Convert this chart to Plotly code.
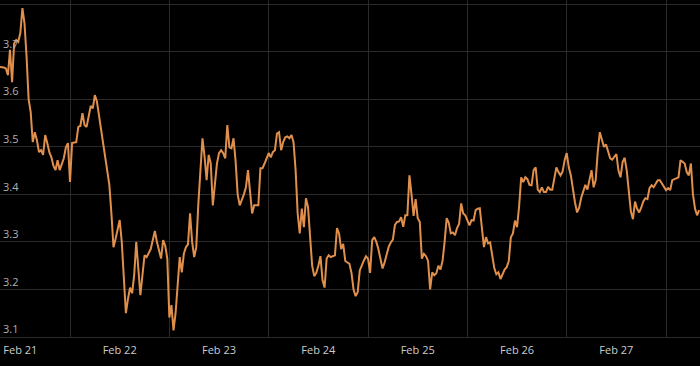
import pandas as pd
import plotly.graph_objects as go

# half-hourly values starting Feb 21 07:00
start_time = "2024-02-21 07:00"
interval = "30min"
values = [
    3.668, 3.668, 3.667, 3.665, 3.651, 3.704, 3.636, 3.718, 3.725, 3.721,
    3.74, 3.792, 3.76, 3.69, 3.60, 3.573, 3.51, 3.531, 3.514, 3.489,
    3.493, 3.483, 3.525, 3.508, 3.489, 3.478, 3.46, 3.451, 3.472, 3.451,
    3.465, 3.476, 3.499, 3.508, 3.426, 3.508, 3.509, 3.51, 3.542, 3.544,
    3.571, 3.546, 3.542, 3.567, 3.586, 3.581, 3.609, 3.595, 3.565, 3.535,
    3.505, 3.47, 3.447, 3.42, 3.36, 3.289, 3.306, 3.325, 3.346, 3.30,
    3.22, 3.150, 3.18, 3.204, 3.192, 3.23, 3.30, 3.24, 3.188, 3.23,
    3.272, 3.268, 3.275, 3.285, 3.304, 3.323, 3.30, 3.28, 3.265, 3.304,
    3.292, 3.265, 3.141, 3.167, 3.114, 3.15, 3.20, 3.268, 3.236, 3.275,
    3.289, 3.295, 3.36, 3.30, 3.268, 3.289, 3.38, 3.46, 3.518, 3.48,
    3.43, 3.483, 3.465, 3.377, 3.42, 3.465, 3.487, 3.493, 3.487, 3.476,
    3.546, 3.499, 3.497, 3.518, 3.47, 3.40, 3.377, 3.388, 3.40, 3.415,
    3.451, 3.405, 3.36, 3.377, 3.377, 3.377, 3.455, 3.455, 3.465, 3.478,
    3.487, 3.478, 3.489, 3.493, 3.528, 3.531, 3.493, 3.51, 3.52, 3.522,
    3.518, 3.525, 3.51, 3.451, 3.36, 3.318, 3.37, 3.331, 3.392, 3.373,
    3.304, 3.25, 3.228, 3.235, 3.25, 3.27, 3.22, 3.204, 3.265, 3.272,
    3.268, 3.27, 3.272, 3.329, 3.318, 3.285, 3.296, 3.26, 3.256, 3.254,
    3.235, 3.2, 3.186, 3.194, 3.24, 3.252, 3.261, 3.27, 3.265, 3.235,
    3.304, 3.31, 3.30, 3.285, 3.265, 3.244, 3.257, 3.275, 3.29, 3.299,
    3.305, 3.336, 3.342, 3.343, 3.352, 3.332, 3.356, 3.356, 3.44, 3.40,
    3.355, 3.39, 3.35, 3.342, 3.265, 3.275, 3.27, 3.26, 3.20, 3.236,
    3.23, 3.234, 3.25, 3.242, 3.26, 3.30, 3.35, 3.34, 3.318, 3.32,
    3.314, 3.329, 3.338, 3.381, 3.36, 3.356, 3.345, 3.335, 3.346, 3.345,
    3.367, 3.37, 3.371, 3.325, 3.289, 3.31, 3.297, 3.299, 3.275, 3.245,
    3.232, 3.236, 3.222, 3.234, 3.242, 3.247, 3.26, 3.31, 3.318, 3.345,
    3.331, 3.375, 3.436, 3.426, 3.436, 3.432, 3.42, 3.419, 3.451, 3.457,
    3.41, 3.405, 3.415, 3.405, 3.405, 3.416, 3.41, 3.41, 3.435, 3.457,
    3.447, 3.44, 3.448, 3.472, 3.487, 3.457, 3.44, 3.41, 3.383, 3.362,
    3.372, 3.393, 3.409, 3.42, 3.41, 3.43, 3.451, 3.415, 3.43, 3.49,
    3.531, 3.515, 3.50, 3.505, 3.49, 3.476, 3.473, 3.478, 3.485, 3.45,
    3.436, 3.468, 3.477, 3.45, 3.41, 3.364, 3.348, 3.385, 3.37, 3.362,
    3.372, 3.385, 3.392, 3.39, 3.413, 3.419, 3.415, 3.422, 3.43, 3.43,
    3.422, 3.415, 3.409, 3.413, 3.409, 3.43, 3.432, 3.434, 3.436, 3.472,
    3.468, 3.465, 3.447, 3.44, 3.465, 3.40, 3.37, 3.356, 3.367,
]
times = pd.date_range(start=start_time, periods=len(values), freq=interval)

x_range = ["2024-02-21 07:05", "2024-02-28 08:12"]
y_range = [3.1, 3.809]
y_ticks = [3.1, 3.2, 3.3, 3.4, 3.5, 3.6, 3.7, 3.8]

fig = go.Figure()
fig.add_trace(go.Scatter(
    x=times, y=values, mode="lines",
    line=dict(color="#E0904C", width=2),
    hoverinfo="skip",
))

grid = "#2a2a2a"
fig.update_layout(
    width=700, height=366,
    margin=dict(l=0, r=0, t=0, b=29),
    paper_bgcolor="#000000", plot_bgcolor="#000000",
    showlegend=False,
    font=dict(family="Open Sans, sans-serif", size=11, color="#cccccc"),
)
fig.update_xaxes(
    range=x_range, type="date",
    dtick=86400000, tick0="2024-02-21",
    tickformat="%b %d", ticklabelmode="period",
    showgrid=True, gridcolor=grid, gridwidth=1,
    showline=True, linecolor=grid, linewidth=1,
    ticks="", zeroline=False, ticklabelstandoff=3,
    tickfont=dict(color="#cccccc", size=11),
)
fig.update_yaxes(
    range=y_range, tickvals=y_ticks,
    ticklabelposition="inside top",
    showgrid=True, gridcolor=grid, gridwidth=1,
    ticks="", zeroline=False, showline=False,
    tickfont=dict(color="#b0b0b0", size=11),
)

fig.write_html("out.html")
